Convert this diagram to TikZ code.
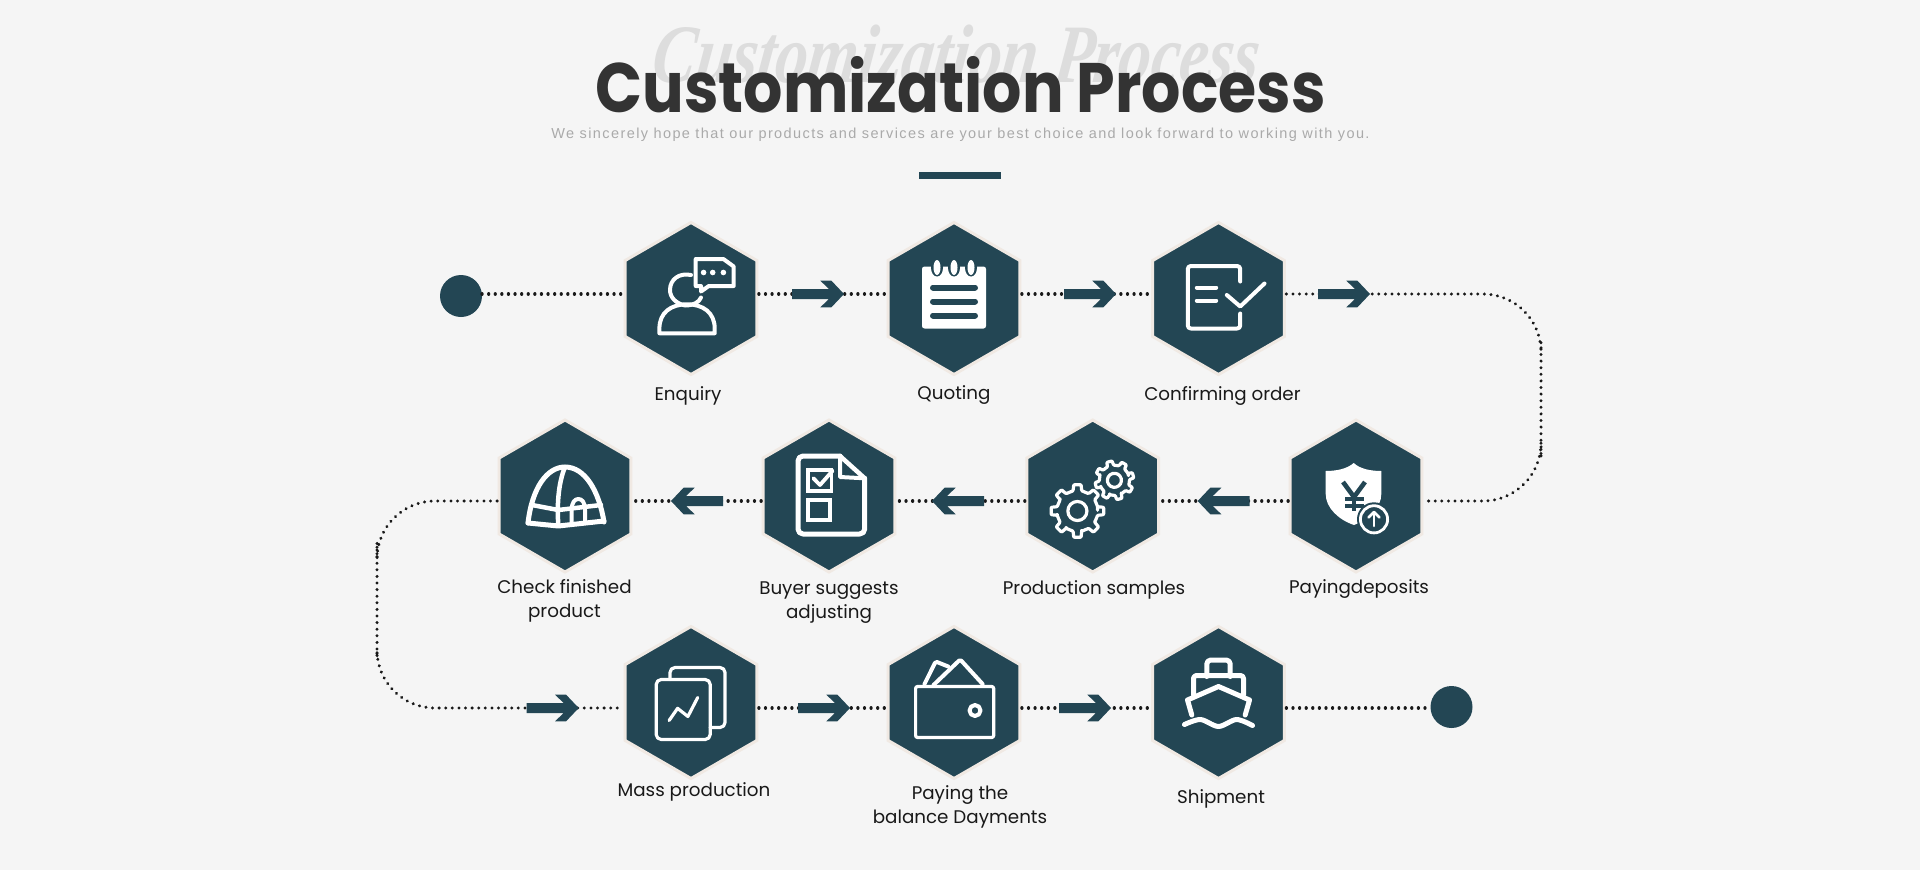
\documentclass[tikz,border=0pt]{standalone}
\usepackage{fontspec}
\setmainfont{Poppins}
\newfontfamily\ghostfont{Liberation Serif}
\newfontfamily\subfont[LetterSpace=9.7]{Liberation Sans}
\usetikzlibrary{shapes.geometric,arrows.meta,positioning,calc}
\definecolor{tealdark}{HTML}{234654}
\definecolor{hexhalo}{HTML}{F0E9E3}
\definecolor{pagebg}{HTML}{F5F5F5}
\definecolor{titlegrey}{HTML}{333333}
\definecolor{ghostgrey}{HTML}{DDDDDD}
\definecolor{subgrey}{HTML}{AAAAAA}
\tikzset{
  hexnode/.style={regular polygon,regular polygon sides=6,shape border rotate=30,minimum size=152pt,
    inner sep=0pt,outer sep=2pt,fill=tealdark,draw=hexhalo,line width=3pt},
  enddot/.style={circle,fill=tealdark,minimum size=42pt,inner sep=0pt,outer sep=0pt},
  dotline/.style={draw=black!90,line width=3.2pt,line cap=round,dash pattern=on 0.1pt off 6.5pt},
  steplabel/.style={font=\fontsize{18.3}{24}\selectfont,align=center,text=black!90,inner sep=0pt},
  iconline/.style={draw=white,line width=4pt,line join=round,line cap=round},
  iconfine/.style={draw=white,line width=3.2pt,line join=round,line cap=round},
  bigarrow/.pic={
    \fill[tealdark] (0,0) -- (-12.6,-13.3) -- (-23.7,-13.3) -- (-15,-5) -- (-52,-5) -- (-52,5)
      -- (-15,5) -- (-23.7,13.3) -- (-12.6,13.3) -- cycle;
  },
  gearicon/.pic={
    \draw[iconline,line width=3.2pt,rounded corners=0.8pt] (0:7.6)
      \foreach \a in {0,45,...,315} {
        -- (\a-12:7.8) -- (\a-8:10) -- (\a+8:10) -- (\a+12:7.8) -- (\a+33:7.8)
      } -- cycle;
    \draw[iconline,line width=3.2pt] (0,0) circle (3.6);
  }
}
\begin{document}
\begin{tikzpicture}[x=1pt,y=-1pt]
\useasboundingbox (0,0) rectangle (1920,870);
\fill[pagebg] (0,0) rectangle (1920,870);

% heading
\node[anchor=base,text=ghostgrey,xscale=0.78,xslant=0.16,transform shape,font=\ghostfont\bfseries\itshape\fontsize{83}{90}\selectfont,inner sep=0pt] (ghost) at (954,82) {Customization Process};
\node[anchor=base,text=titlegrey,xscale=0.883,transform shape,font=\bfseries\fontsize{70}{80}\selectfont,inner sep=0pt] (title) at (960.5,112) {Customization Process};
\node[anchor=base,text=subgrey,font=\subfont\fontsize{14.5}{16}\selectfont,inner sep=0pt] (subtitle) at (960.5,138) {We sincerely hope that our products and services are your best choice and look forward to working with you.};
\fill[tealdark] (919,172) rectangle (1001,178.5);

% rows of steps
\coordinate (rowA) at (0,294);
\coordinate (rowB) at (0,501);
\coordinate (rowC) at (0,708);
\coordinate (turnR) at (1541,400);
\coordinate (turnL) at (377,600);

\node[enddot] (startdot) at (461,296) {};
\node[hexnode] (enquiry) at (691,298.5) {};
\node[hexnode] (quoting) at (954,298.5) {};
\node[hexnode] (confirm) at (1218.5,298.5) {};
\node[hexnode] (deposit) at (1356,496) {};
\node[hexnode] (samples) at (1092.7,496) {};
\node[hexnode] (adjust) at (829,496) {};
\node[hexnode] (check) at (565,496) {};
\node[hexnode] (mass) at (691,702.5) {};
\node[hexnode] (balance) at (954,702.5) {};
\node[hexnode] (shipment) at (1218.5,702.5) {};
\node[enddot] (enddot) at (1451.5,707) {};

% dotted connectors
\draw[dotline] (startdot.east |- rowA) -- (enquiry.west |- rowA);
\draw[dotline] (enquiry.east |- rowA) -- (quoting.west |- rowA);
\draw[dotline] (quoting.east |- rowA) -- (confirm.west |- rowA);
\draw[dotline,rounded corners=58pt] (confirm.east |- rowA) -| (turnR) |- (deposit.east |- rowB);
\draw[dotline] (deposit.west |- rowB) -- (samples.east |- rowB);
\draw[dotline] (samples.west |- rowB) -- (adjust.east |- rowB);
\draw[dotline] (adjust.west |- rowB) -- (check.east |- rowB);
\draw[dotline,rounded corners=58pt] (check.west |- rowB) -| (turnL) |- (mass.west |- rowC);
\draw[dotline] (mass.east |- rowC) -- (balance.west |- rowC);
\draw[dotline] (balance.east |- rowC) -- (shipment.west |- rowC);
\draw[dotline] (shipment.east |- rowC) -- (enddot.west |- rowC);

% chunky arrows
\pic at (844,294) {bigarrow};
\pic at (1116,294) {bigarrow};
\pic at (1370,294) {bigarrow};
\pic[rotate=180] at (1197.7,501) {bigarrow};
\pic[rotate=180] at (932,501) {bigarrow};
\pic[rotate=180] at (671,501) {bigarrow};
\pic at (578.7,708) {bigarrow};
\pic at (850,708) {bigarrow};
\pic at (1111,708) {bigarrow};

% enquiry icon
\begin{scope}[shift={(enquiry.center)}]
  \draw[iconline] (4.7,-39.5) -- (32.4,-39.5) -- (42.7,-32) -- (42.7,-12.5) -- (17.8,-12.5) -- (10,-7) -- (10,-12.5) -- (4.7,-12.5) -- cycle;
  \fill[white] (12.6,-26) circle (2.8);
  \fill[white] (21.7,-26) circle (2.8);
  \fill[white] (32.4,-26) circle (2.8);
  \draw[iconline] (0,-23.5) .. controls (-12,-26) and (-21,-19) .. (-21,-8.5) .. controls (-21,-1) and (-15,5) .. (-6,7) .. controls (2,7) and (8,4) .. (10,-1);
  \draw[iconline] (-31.6,34.8) -- (-31.6,30) .. controls (-31.6,14) and (-20,5.8) .. (-4,5.8) .. controls (12,5.8) and (23.7,14) .. (23.7,30) -- (23.7,34.8) -- cycle;
\end{scope}

% quoting icon
\begin{scope}[shift={(quoting.center)}]
  \fill[white,rounded corners=2.5pt] (-32,-32) rectangle (32,30);
  \fill[tealdark] (-17,-31) ellipse (6 and 9);
  \fill[tealdark] (0,-31) ellipse (6 and 9);
  \fill[tealdark] (17,-31) ellipse (6 and 9);
  \fill[white] (-17,-31) ellipse (3.5 and 7.5);
  \fill[white] (0,-31) ellipse (3.5 and 7.5);
  \fill[white] (17,-31) ellipse (3.5 and 7.5);
  \draw[tealdark,line width=6pt,line cap=round] (-21,-11) -- (21,-11);
  \draw[tealdark,line width=6pt,line cap=round] (-21,3) -- (21,3);
  \draw[tealdark,line width=6pt,line cap=round] (-21,17) -- (21,17);
\end{scope}

% confirming order icon
\begin{scope}[shift={(confirm.center)}]
  \draw[iconline,rounded corners=3pt] (21.7,-17) -- (21.7,-32.5) -- (-30.7,-32.5) -- (-30.7,30) -- (21.7,30) -- (21.7,15);
  \draw[iconline] (-21.7,-11) -- (-2.3,-11);
  \draw[iconline] (-21.7,2) -- (-2.3,2);
  \draw[iconline] (8.3,-3.5) -- (21.7,8) -- (46,-15);
\end{scope}

% deposit icon
\begin{scope}[shift={(deposit.center)}]
  \fill[white] (-2.3,-33) .. controls (-9,-27) and (-20,-25) .. (-30.3,-25) -- (-30.3,-2) .. controls (-30.3,12) and (-17,24) .. (-2,29) .. controls (12,24) and (25.3,12) .. (25.3,-2) -- (25.3,-25) .. controls (15,-25) and (4,-27) .. (-2.3,-33) -- cycle;
  \draw[tealdark,line width=4.6pt] (-13,-14) -- (-2,1) -- (9,-14);
  \draw[tealdark,line width=4.6pt] (-2,1) -- (-2,15);
  \draw[tealdark,line width=3.6pt] (-11,3) -- (8,3);
  \draw[tealdark,line width=3.6pt] (-11,10) -- (8,10);
  \fill[tealdark] (18,23.3) circle (17);
  \draw[draw=white,line width=2.8pt] (18,23.3) circle (13.6);
  \draw[iconfine,line width=2.6pt] (18,30) -- (18,16);
  \draw[iconfine,line width=2.6pt] (12.5,21.5) -- (18,16) -- (23.5,21.5);
\end{scope}

% samples icon
\pic[scale=2.65] at ($(samples.center)+(-15.3,15)$) {gearicon};
\pic[scale=1.95,rotate=15] at ($(samples.center)+(21.7,-15.7)$) {gearicon};

% adjusting icon
\begin{scope}[shift={(adjust.center)}]
  \draw[iconline,line width=5pt,rounded corners=5pt] (11,-40) -- (-31,-40) -- (-31,38) -- (35.7,38) -- (35.7,-17.7);
  \draw[iconline,line width=4.5pt] (11,-40) -- (35.7,-17.7);
  \draw[iconline,line width=4pt] (11,-40) -- (11,-19) -- (35.7,-17.7);
  \draw[iconline,line width=3.4pt,line join=miter] (-21,-26) rectangle (2.2,-5);
  \draw[iconline,line width=3.8pt] (-15.6,-17.7) -- (-9,-11) -- (3.6,-25.3);
  \draw[iconline,line width=3.4pt,line join=miter] (-21,4) rectangle (1,24);
\end{scope}

% finished product icon
\begin{scope}[shift={(check.center)}]
  \draw[iconline,line width=5pt] (-37,27) .. controls (-33,-8) and (-18,-29) .. (0,-29) .. controls (20,-29) and (34,-5) .. (39,26);
  \draw[iconline,line width=4.5pt] (0,-29) .. controls (-7,-12) and (-8,10) .. (-6.7,29);
  \draw[iconline,line width=4.5pt] (-33,9) -- (-6.7,14) -- (36,9);
  \draw[iconline,line width=5pt] (-37,27) -- (-6.7,30) -- (39,25);
  \draw[iconline,line width=4pt] (6.7,26) -- (6.7,14) .. controls (6.7,6) and (10,3) .. (13.3,3) .. controls (17,3) and (20,6) .. (20,14) -- (20,26);
\end{scope}

% mass production icon
\begin{scope}[shift={(mass.center)}]
  \draw[iconfine,rounded corners=5pt] (-34.8,-23) rectangle (19.2,37);
  \draw[iconfine,rounded corners=5pt] (-21,-23) -- (-21,-35) -- (34,-35) -- (34,25) -- (19.2,25);
  \draw[iconfine] (-21.9,18) -- (-13.4,5.8) -- (-3.1,14) -- (6.7,-5);
\end{scope}

% balance icon
\begin{scope}[shift={(balance.center)}]
  \draw[iconfine,rounded corners=2pt] (-38.4,-16) rectangle (39.7,35);
  \draw[iconline] (21,8) circle (5.5);
  \draw[iconline,rounded corners=1.5pt] (-29.5,-18.5) -- (-18.3,-41) -- (-5.8,-36);
  \draw[iconline,rounded corners=1.5pt] (-20.5,-17.5) -- (6.2,-43) -- (28.6,-18.5);
\end{scope}

% shipment icon
\begin{scope}[shift={(shipment.center)}]
  \draw[iconline,line width=5pt,rounded corners=4pt] (-11.7,-26) -- (-11.7,-42.5) -- (11.7,-42.5) -- (11.7,-26);
  \draw[iconline,line width=5pt,rounded corners=3pt] (-25,-7.5) -- (-25,-27) -- (25,-27) -- (25,-7.5);
  \draw[iconline,line width=5pt] (-26.7,12.5) -- (-31,-2.5) -- (0,-16) -- (31,-2.5) -- (26.7,12.5);
  \draw[iconline,line width=5pt] plot[smooth] coordinates {(-34,22) (-18,17) (0,24) (18,17) (34,23)};
\end{scope}

% labels
\node[steplabel] (lblenquiry) at (688,395.5) {Enquiry};
\node[steplabel] (lblquoting) at (954,395.5) {Quoting};
\node[steplabel] (lblconfirm) at (1222.5,395.5) {Confirming order};
\node[steplabel] (lbldeposit) at (1359,589.5) {Payingdeposits};
\node[steplabel] (lblsamples) at (1094,589.5) {Production samples};
\node[steplabel] (lbladjust) at (829,602.5) {Buyer suggests\\adjusting};
\node[steplabel] (lblcheck) at (564.5,601) {Check finished\\product};
\node[steplabel] (lblmass) at (694,791.5) {Mass production};
\node[steplabel] (lblbalance) at (960,806.5) {Paying the\\balance Dayments};
\node[steplabel] (lblshipment) at (1221,798.5) {Shipment};
\end{tikzpicture}
\end{document}
